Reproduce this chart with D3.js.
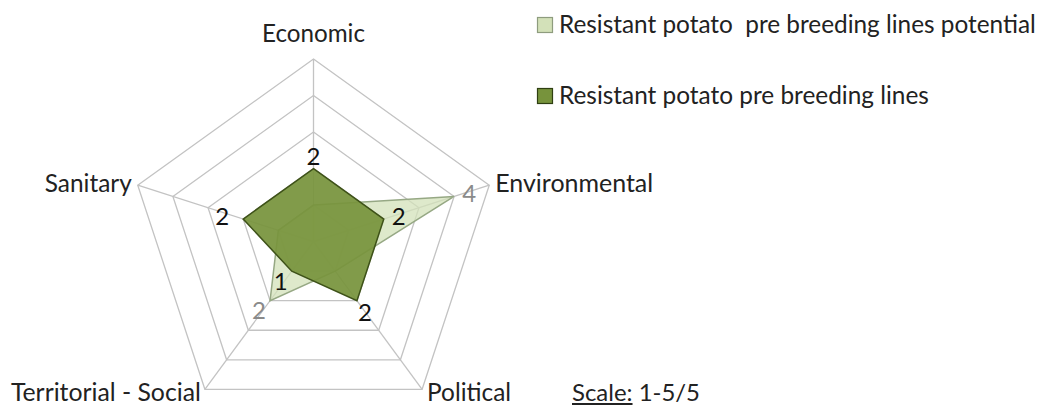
<!DOCTYPE html>
<html>
<head>
<meta charset="utf-8">
<script src="https://cdn.jsdelivr.net/npm/d3@7/dist/d3.min.js"></script>
<style>
  html, body { margin: 0; padding: 0; background: #fff; }
  svg { display: block; font-family: Lato, "Open Sans", sans-serif; }
  text { white-space: pre; }
</style>
</head>
<body>
<svg id="chart" width="1052" height="405"></svg>
<script>
// ---- data ----
const categories = ["Economic", "Environmental", "Political", "Territorial - Social", "Sanitary"];
const seriesNames = ["Resistant potato  pre breeding lines potential", "Resistant potato pre breeding lines"];
const potentialValues = [1, 4, 1, 2, 1];
const actualValues = [2, 2, 2, 1, 2];
const ringLevels = [1, 2, 3, 4, 5];
const scaleNote = ["Scale:", " 1-5/5"];

// ---- layout / style ----
const cx = 313.5, cy = 241.6, R = 182.6, xStretch = 1.012;
const svg = d3.select("#chart");

const r = d3.scaleLinear().domain([0, 5]).range([0, R]);
const angle = d3.scalePoint().domain(categories).range([0, 2 * Math.PI * 4 / 5]);
function pt(cat, v) {
  const a = angle(cat);
  return [cx + r(v) * Math.sin(a) * xStretch, cy - r(v) * Math.cos(a)];
}

function fit(sel, target) {
  sel.each(function() {
    const base = parseFloat(this.getAttribute("font-size"));
    const w = this.getComputedTextLength();
    if (w > 0) this.setAttribute("font-size", (base * target / w).toFixed(2));
  });
}

// grid rings
const gridG = svg.append("g");
gridG.selectAll("polygon.ring").data(ringLevels).join("polygon")
  .attr("class", "ring")
  .attr("points", d => categories.map(c => pt(c, d).join(",")).join(" "))
  .attr("fill", "none").attr("stroke", "#c3c3c3").attr("stroke-width", 1.3);
gridG.selectAll("line.spoke").data(categories).join("line")
  .attr("class", "spoke")
  .attr("x1", cx).attr("y1", cy)
  .attr("x2", d => pt(d, 5)[0]).attr("y2", d => pt(d, 5)[1])
  .attr("stroke", "#c3c3c3").attr("stroke-width", 1.3);

// series polygons
const series = [
  { values: potentialValues, other: actualValues, fill: "#d3e1b9", fillOp: 0.75, stroke: "#96a884", label: "#8a8a8a" },
  { values: actualValues, other: null, fill: "#77933c", fillOp: 0.93, stroke: "#3e5219", label: "#111" }
];
svg.append("g").selectAll("polygon").data(series).join("polygon")
  .attr("points", s => categories.map((c, i) => pt(c, s.values[i]).join(",")).join(" "))
  .attr("fill", s => s.fill).attr("fill-opacity", s => s.fillOp)
  .attr("stroke", s => s.stroke).attr("stroke-width", 1.5).attr("stroke-linejoin", "miter");

// data labels (potential labels only where they extend beyond the current lines)
const labelOffsets = [[0, -13], [15, -4], [8, 11], [-11, 9], [-21, -4]];
series.forEach(s => {
  const idx = categories.map((c, i) => i).filter(i => !s.other || s.values[i] > s.other[i]);
  svg.append("g").selectAll("text").data(idx).join("text")
    .attr("x", i => pt(categories[i], s.values[i])[0] + labelOffsets[i][0])
    .attr("y", i => pt(categories[i], s.values[i])[1] + labelOffsets[i][1])
    .attr("text-anchor", "middle").attr("dominant-baseline", "central")
    .attr("font-size", 24).attr("fill", s.label)
    .text(i => s.values[i]);
});

// axis labels
const axisLab = [
  { dx: 0, dy: -17, anchor: "middle", w: 103 },
  { dx: 6, dy: 7, anchor: "start", w: 158 },
  { dx: 5, dy: 12, anchor: "start", w: 84 },
  { dx: -4, dy: 12, anchor: "end", w: 190 },
  { dx: -6, dy: 7, anchor: "end", w: 87 }
];
svg.append("g").selectAll("text").data(categories).join("text")
  .attr("x", (c, i) => pt(c, 5)[0] + axisLab[i].dx)
  .attr("y", (c, i) => pt(c, 5)[1] + axisLab[i].dy)
  .attr("text-anchor", (c, i) => axisLab[i].anchor)
  .attr("font-size", 20).attr("fill", "#222")
  .text(c => c)
  .each(function(c, i) { fit(d3.select(this), axisLab[i].w); });

// legend
const legendFills = [["#d3e1b9", "#8e9c7e"], ["#77933c", "#2f3f12"]];
const legendY = [33, 104];
const legendW = [477, 370];
const lg = svg.append("g");
seriesNames.forEach((name, i) => {
  lg.append("rect").attr("x", 537.5).attr("y", legendY[i] - 15.5).attr("width", 15).attr("height", 15)
    .attr("fill", legendFills[i][0]).attr("stroke", legendFills[i][1]).attr("stroke-width", 1.2);
  const t = lg.append("text").attr("x", 559).attr("y", legendY[i])
    .attr("font-size", 20).attr("fill", "#222").text(name);
  fit(t, legendW[i]);
});

// scale note
const st = svg.append("text").attr("x", 572).attr("y", 401).attr("font-size", 20).attr("fill", "#222");
st.append("tspan").attr("text-decoration", "underline").text(scaleNote[0]);
st.append("tspan").text(scaleNote[1]);
fit(st, 128);
</script>
</body>
</html>
